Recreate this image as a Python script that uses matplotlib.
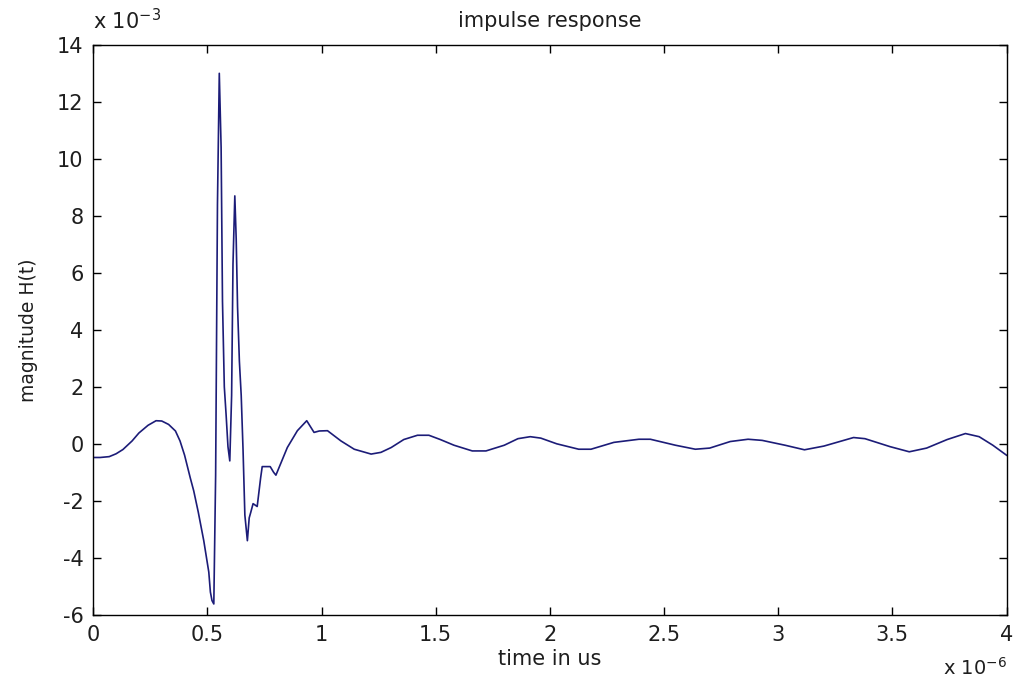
import matplotlib
matplotlib.use("Agg")
import matplotlib.pyplot as plt

# time in units of 1e-6 s, magnitude in units of 1e-3
t_us = [0.000, 0.030, 0.070, 0.100, 0.130, 0.170, 0.200, 0.240, 0.275, 0.300,
        0.330, 0.360, 0.380, 0.400, 0.425, 0.440, 0.460, 0.484, 0.506, 0.513,
        0.520, 0.528, 0.536, 0.544, 0.552, 0.560, 0.566, 0.574, 0.582, 0.590,
        0.598, 0.606, 0.612, 0.620, 0.626, 0.632, 0.640, 0.648, 0.656, 0.664,
        0.675, 0.683, 0.690, 0.700, 0.718, 0.733, 0.740, 0.760, 0.775, 0.790,
        0.800, 0.850, 0.894, 0.935, 0.967, 0.990, 1.026, 1.085, 1.143, 1.217,
        1.260, 1.305, 1.360, 1.420, 1.470, 1.520, 1.580, 1.660, 1.720, 1.800,
        1.860, 1.914, 1.960, 2.030, 2.126, 2.180, 2.280, 2.390, 2.440, 2.550,
        2.637, 2.700, 2.790, 2.868, 2.930, 3.030, 3.115, 3.200, 3.330, 3.380,
        3.490, 3.574, 3.650, 3.740, 3.820, 3.880, 3.940, 4.000]
h_milli = [-0.48, -0.48, -0.45, -0.35, -0.20, 0.10, 0.38, 0.65, 0.81, 0.80,
           0.68, 0.45, 0.10, -0.40, -1.20, -1.65, -2.40, -3.40, -4.50, -5.20,
           -5.50, -5.62, -1.10, 8.40, 13.00, 10.40, 5.00, 2.00, 1.00, -0.10,
           -0.60, 1.70, 6.30, 8.70, 7.20, 4.80, 2.90, 1.70, -0.20, -2.50,
           -3.40, -2.60, -2.40, -2.10, -2.20, -1.20, -0.80, -0.80, -0.80, -1.00,
           -1.10, -0.13, 0.46, 0.81, 0.40, 0.45, 0.46, 0.10, -0.19, -0.36,
           -0.30, -0.13, 0.15, 0.30, 0.30, 0.15, -0.05, -0.25, -0.25, -0.05,
           0.18, 0.25, 0.20, 0.00, -0.19, -0.19, 0.05, 0.16, 0.16, -0.05,
           -0.19, -0.15, 0.08, 0.16, 0.12, -0.05, -0.21, -0.08, 0.22, 0.18,
           -0.10, -0.28, -0.15, 0.15, 0.36, 0.25, -0.05, -0.40]

x_ticks = [0, 0.5, 1, 1.5, 2, 2.5, 3, 3.5, 4]
x_tick_labels = ["0", "0.5", "1", "1.5", "2", "2.5", "3", "3.5", "4"]
y_ticks = [-6, -4, -2, 0, 2, 4, 6, 8, 10, 12, 14]
y_tick_labels = ["-6", "-4", "-2", "0", "2", "4", "6", "8", "10", "12", "14"]

plt.rcParams["font.family"] = ["DejaVu Sans"]
fs = 15
txt_color = "#1e1e1e"

fig = plt.figure(figsize=(10.17, 6.9), dpi=100)
ax = fig.add_axes([0.0917, 0.109, 0.898, 0.826])
ax.plot(t_us, h_milli, color="#1c1c78", lw=1.2)
ax.set_xlim(0, 4)
ax.set_ylim(-6, 14)
ax.set_xticks(x_ticks)
ax.set_xticklabels(x_tick_labels)
ax.set_yticks(y_ticks)
ax.set_yticklabels(y_tick_labels)
ax.tick_params(direction="in", top=True, right=True, length=6, width=1,
               labelsize=fs, colors="black", labelcolor=txt_color)
ax.tick_params(axis="y", pad=7)
ax.tick_params(axis="x", pad=7)
for s in ax.spines.values():
    s.set_linewidth(1.0)
    s.set_color("black")
ax.set_title("impulse response", fontsize=fs, color=txt_color, pad=13)
ax.set_xlabel("time in us", fontsize=fs, color=txt_color, labelpad=3)
ax.set_ylabel("magnitude H(t)", fontsize=13.5, color=txt_color, labelpad=14)
ax.text(0.0, 1.02, r"x 10$^{\mathregular{-3}}$", transform=ax.transAxes,
        fontsize=fs, color=txt_color, ha="left", va="bottom")
ax.text(1.0, -0.074, r"x 10$^{\mathregular{-6}}$", transform=ax.transAxes,
        fontsize=14, color=txt_color, ha="right", va="top")
fig.savefig("out.png", dpi=100, facecolor="white")
